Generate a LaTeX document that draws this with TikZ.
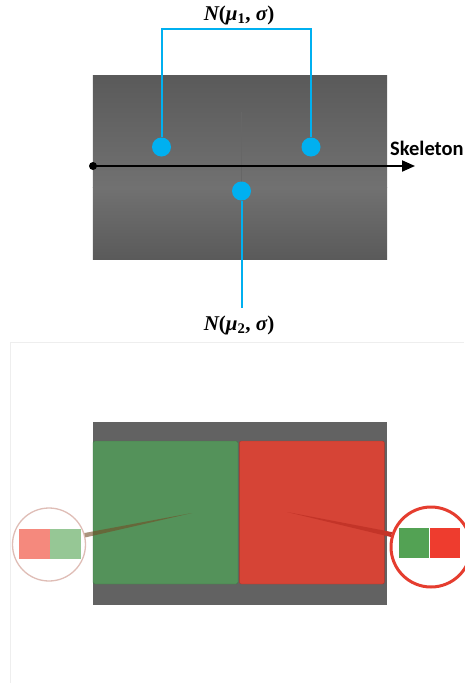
\documentclass[tikz,border=0pt]{standalone}
\usepackage{fontspec}
\setsansfont{Carlito}
\newfontfamily\labelfont{Liberation Serif}
\usetikzlibrary{positioning, arrows.meta, calc}

\definecolor{skyblue}{HTML}{00B0F0}
\definecolor{bodygray}{HTML}{626262}
\definecolor{bodylight}{HTML}{717171}
\definecolor{bodydark}{HTML}{5A5A5A}
\definecolor{leafgreen}{HTML}{54925A}
\definecolor{leafred}{HTML}{D64436}
\definecolor{palered}{HTML}{F5897D}
\definecolor{palegreen}{HTML}{96C795}
\definecolor{deepgreen}{HTML}{53A254}
\definecolor{deepred}{HTML}{EE3C2E}
\definecolor{ringpale}{HTML}{DFBDB6}
\definecolor{ringred}{HTML}{E53D2F}
\definecolor{framegray}{HTML}{EEEEEE}

\begin{document}
\begin{tikzpicture}[x=1pt, y=-1pt,
    body/.style={rectangle, inner sep=0pt, minimum width=294pt, minimum height=183pt},
    half/.style={rectangle, rounded corners=2pt, inner sep=0pt, minimum width=145pt, minimum height=143pt},
    bluedot/.style={circle, fill=skyblue, inner sep=0pt, minimum size=19pt},
    skdot/.style={circle, fill=black, inner sep=0pt, minimum size=8pt},
    blueline/.style={draw=skyblue, line width=2pt},
    skel/.style={line width=2pt, -{Triangle[length=13pt, width=11pt]}},
    midline/.style={draw=black!60, line width=0.8pt},
    mlabel/.style={font=\fontsize{21}{23}\selectfont\labelfont\bfseries},
    sklabel/.style={font=\fontsize{20.5}{22}\selectfont\sffamily\bfseries, inner sep=0pt},
    ring/.style={circle, fill=white, inner sep=0pt},
    swatch/.style={rectangle, inner sep=0pt, minimum width=30.5pt, minimum height=30pt}
]
\useasboundingbox (0,0) rectangle (464,683);

% Rahmen unten
\draw[framegray, line width=0.8pt] (10,683) -- (10,342) -- (464,342);

% Koerper oben
\node[body] (top) at (240,167.5) {};
\shade[top color=bodydark, bottom color=bodylight] (top.north west) rectangle ($(top.east)+(0,20)$);
\shade[top color=bodylight, bottom color=bodydark] ($(top.west)+(0,20)$) rectangle (top.south east);
\draw[midline] (241,112) -- (241,190);

% Skelett
\node[skdot] (s0) at (93,166) {};
\coordinate (s1) at (415,166);
\draw[skel] (s0.center) -- (s1);
\node[sklabel, anchor=west] (sk) at (390,148) {Skeleton};

% Messpunkte
\node[bluedot] (m1) at (161.5,147) {};
\node[bluedot] (m2) at (311,147) {};
\node[bluedot] (m3) at (241.5,191) {};
\coordinate (br) at (241,29);
\coordinate (bt) at (241.5,308);
\node[mlabel] (n1) at (239,15) {{\itshape N}({\itshape μ}\textsubscript{1}, {\itshape σ})};
\node[mlabel] (n2) at (239,325) {{\itshape N}({\itshape μ}\textsubscript{2}, {\itshape σ})};
\draw[blueline] (m1) |- (br) -| (m2);
\draw[blueline] (m3) -- (bt);

% Koerper unten
\node[body, fill=bodygray] (bot) at (240,513) {};
\node[half, fill=leafgreen, draw=leafgreen!80!black] (gl) at (165.5,512.5) {};
\node[half, fill=leafred, draw=leafred!80!black, right=1pt of gl] (rl) {};

% Lupen
\coordinate (gt) at (192,513);
\coordinate (rt) at (287,512);
\node[ring, draw=ringpale, line width=1.3pt, minimum size=73pt] (lc) at (49,544.5) {};
\node[ring, draw=ringred, line width=3pt, minimum size=80pt] (rc) at (431,547) {};
\fill[brown!60!black, opacity=0.6] (lc.11) -- (gt) -- (lc.18) -- cycle;
\fill[ringred!85!black] (rc.166) -- (rt) -- (rc.159) -- cycle;
\node[swatch, fill=palered] (lr) at (34.5,544) {};
\node[swatch, fill=palegreen, right=0pt of lr] (lg) {};
\node[swatch, fill=deepgreen] (rg) at (414,543) {};
\node[swatch, fill=deepred, right=0pt of rg] (rr) {};

\end{tikzpicture}
\end{document}
